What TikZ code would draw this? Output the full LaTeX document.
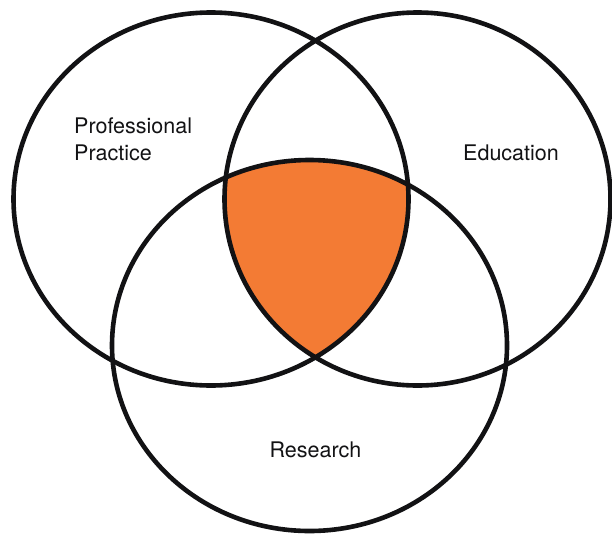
\documentclass[tikz,border=0pt]{standalone}
\usepackage{fontspec}
\setmainfont{TeX Gyre Heros}
\usetikzlibrary{positioning}
\definecolor{venn_orange}{RGB}{243,123,52}
\definecolor{venn_black}{RGB}{18,18,20}

\begin{document}
\begin{tikzpicture}[x=1pt, y=-1pt, ring/.style={venn_black, line width=4.6pt}, every node/.style={inner sep=0pt, text=venn_black, font=\fontsize{21.5}{27}\selectfont}]
      \useasboundingbox (0,0) rectangle (612,535);
      % common part of all three sets
      \begin{scope}
        \clip (211,199) ellipse (197.5pt and 186.5pt);
        \clip (417.5,199) ellipse (193pt and 186.5pt);
        \fill[venn_orange] (309.5,345.5) ellipse (197.5pt and 185.5pt);
      \end{scope}
      \draw[ring] (211,199) ellipse (197.5pt and 186.5pt);
      \draw[ring] (417.5,199) ellipse (193pt and 186.5pt);
      \draw[ring] (309.5,345.5) ellipse (197.5pt and 185.5pt);
      \node[anchor=base west, align=left] (practice) at (74,160) {Professional\\Practice};
      \node[anchor=base west] (education) at (463,160) {Education};
      \node[anchor=base] (research) at (315.5,457) {Research};
    \end{tikzpicture}
\end{document}
